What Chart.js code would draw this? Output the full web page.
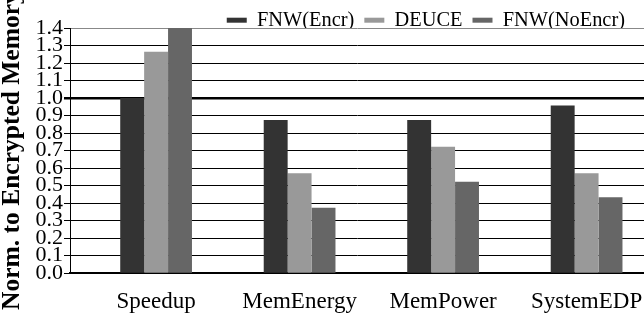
<!DOCTYPE html>
<html>
<head>
<meta charset="utf-8">
<script src="https://cdn.jsdelivr.net/npm/chart.js@4"></script>
<style>
  html,body{margin:0;padding:0;background:#fff;}
  #wrap{width:644px;height:316px;}
</style>
</head>
<body>
<div id="wrap"><canvas id="c" width="644" height="316"></canvas></div>
<script>
const categories = ['Speedup', 'MemEnergy', 'MemPower', 'SystemEDP'];
const fnwEncr   = [1.00, 0.875, 0.875, 0.957];
const deuce     = [1.265, 0.571, 0.722, 0.571];
const fnwNoEncr = [1.40, 0.373, 0.522, 0.434];
const yTicks = [0.0, 0.1, 0.2, 0.3, 0.4, 0.5, 0.6, 0.7, 0.8, 0.9, 1.0, 1.1, 1.2, 1.3, 1.4];

const serif = 'Liberation Serif, Times New Roman, serif';
const toPoints = arr => arr.map((v, i) => ({x: i, y: v}));

// pull the legend a bit in from the right edge, like the original
const legendShift = {
  id: 'legendShift',
  afterLayout(chart) { chart.legend.right -= 9; }
};

new Chart(document.getElementById('c'), {
  type: 'bar',
  data: {
    datasets: [
      {label: 'FNW(Encr)', data: toPoints(fnwEncr), backgroundColor: '#333333'},
      {label: 'DEUCE', data: toPoints(deuce), backgroundColor: '#999999'},
      {label: 'FNW(NoEncr)', data: toPoints(fnwNoEncr), backgroundColor: '#666666'}
    ]
  },
  plugins: [legendShift],
  options: {
    responsive: false,
    animation: false,
    devicePixelRatio: 1,
    layout: {padding: {top: 0, right: 0, left: 0, bottom: -15}},
    datasets: {bar: {categoryPercentage: 0.5, barPercentage: 1.0, borderWidth: 0}},
    scales: {
      x: {
        type: 'linear', min: -0.6, max: 3.4, offset: false,
        afterBuildTicks: s => { s.ticks = categories.map((c, i) => ({value: i})); },
        afterFit: s => { s.paddingLeft = 0; s.paddingRight = 0; },
        grid: {display: false, drawTicks: false},
        border: {color: '#000', width: 2},
        ticks: {
          color: '#000', font: {family: serif, size: 23, lineHeight: 0.6}, padding: 22,
          autoSkip: false, maxRotation: 0,
          callback: v => categories[v]
        }
      },
      y: {
        min: 0, max: 1.4,
        afterBuildTicks: s => { s.ticks = yTicks.map(v => ({value: v})); },
        ticks: {
          color: '#000', font: {family: serif, size: 22, lineHeight: 1}, padding: 1,
          autoSkip: false,
          callback: v => Number(v).toFixed(1)
        },
        grid: {
          color: ctx => ctx.tick && ctx.tick.value === 1.4 ? '#888' : '#000',
          lineWidth: ctx => ctx.tick && Math.abs(ctx.tick.value - 1.0) < 1e-9 ? 2.5 : 1,
          drawTicks: true, tickLength: 6, tickColor: '#000'
        },
        border: {color: '#000', width: 1},
        title: {
          display: true, text: 'Norm. to Encrypted Memory', color: '#000',
          font: {family: serif, size: 25.5, weight: 'bold', lineHeight: 1}, padding: {top: 0, bottom: 9}
        }
      }
    },
    plugins: {
      legend: {
        position: 'top', align: 'end', maxHeight: 28,
        labels: {
          color: '#000', font: {family: serif, size: 20.4, lineHeight: 1},
          boxWidth: 20, boxHeight: 5, padding: 10
        }
      },
      tooltip: {enabled: false}
    }
  }
});
</script>
</body>
</html>
